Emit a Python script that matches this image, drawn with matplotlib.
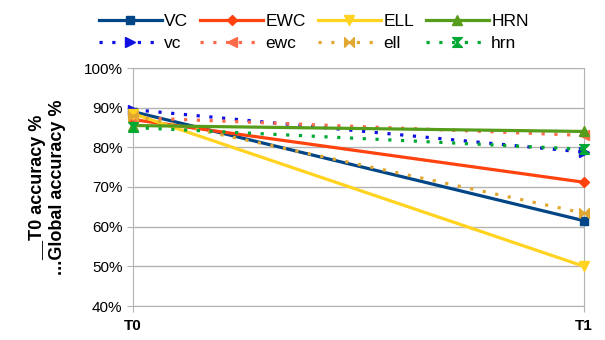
import matplotlib.pyplot as plt
import numpy as np

plt.rcParams['font.family'] = ['Liberation Sans', 'DejaVu Sans']

# data: accuracy at T0 and T1
x_labels = ['T0', 'T1']
names = ['VC', 'vc', 'EWC', 'ewc', 'ELL', 'ell', 'HRN', 'hrn']
VC = [89.0, 61.5]
vc = [89.5, 78.8]
EWC = [87.0, 71.2]
ewc = [87.5, 83.0]
ELL = [88.5, 50.0]
ell = [88.0, 63.4]
HRN = [85.5, 84.0]
hrn = [85.0, 79.5]
values = [VC, vc, EWC, ewc, ELL, ell, HRN, hrn]

bowtie = [(-1, -1), (1, 1), (1, -1), (-1, 1), (-1, -1)]
hourglass = [(-1, -1), (1, -1), (-1, 1), (1, 1), (-1, -1)]
colors = ['#004586', '#1010e0', '#ff420e', '#ff6a4a', '#ffd320', '#e0a830', '#579d1c', '#00a933']
markers = ['s', '>', 'D', '<', 'v', bowtie, '^', hourglass]
msizes = [6, 7, 5.5, 7, 7, 7, 7, 7]
styles = ['-', (0, (1, 3)), '-', (0, (1, 3)), '-', (0, (1, 3)), '-', (0, (1, 3))]

fig = plt.figure(figsize=(6.05, 3.4), dpi=100)
ax = fig.add_axes([0.2198, 0.1, 0.7455, 0.7])
xs = np.arange(len(x_labels))
for i in range(len(names)):
    ax.plot(xs, values[i], color=colors[i], linestyle=styles[i], linewidth=2.3,
            marker=markers[i], markersize=msizes[i], label=names[i],
            clip_on=False, dash_capstyle='butt', zorder=3)

ax.set_xlim(0, 1)
ax.set_ylim(40, 100)
ax.set_yticks(range(40, 101, 10))
ax.set_yticklabels([str(v) + '%' for v in range(40, 101, 10)], fontsize=11)
ax.set_xticks(xs)
ax.set_xticklabels(x_labels, fontsize=11, fontweight='bold')
ax.grid(axis='y', color='#b3b3b3', linewidth=1)
for s in ax.spines.values():
    s.set_color('#b3b3b3')
ax.tick_params(colors='#b3b3b3', labelcolor='black', length=4)
ax.tick_params(axis='x', pad=5)
ax.set_ylabel('__T0 accuracy %\n...Global accuracy %', fontsize=13, fontweight='bold', labelpad=13)

fig.legend(loc='upper left', bbox_to_anchor=(0.138, 1.005), ncol=4, frameon=False,
           fontsize=12.5, handlelength=3.6, columnspacing=0.7, handletextpad=0.15,
           labelspacing=0.4)
plt.savefig('out.png', dpi=100)
